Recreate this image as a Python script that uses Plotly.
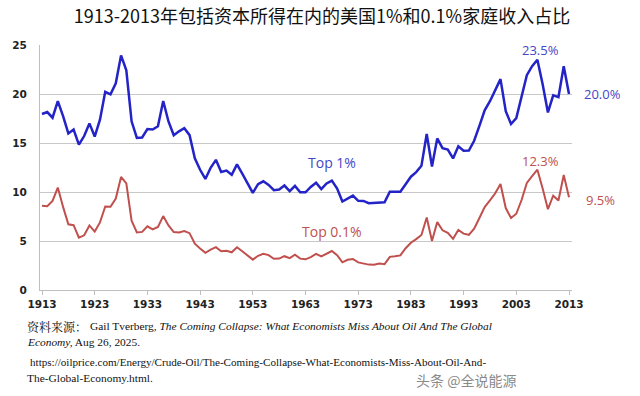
import plotly.graph_objects as go

years = list(range(1913, 2014))
top1 = [17.96, 18.16, 17.58, 19.27, 17.75, 15.98, 16.38, 14.83, 15.71, 17.00,
        15.66, 17.38, 20.22, 19.96, 21.09, 23.94, 22.42, 17.21, 15.51, 15.56,
        16.42, 16.37, 16.71, 19.29, 17.20, 15.80, 16.19, 16.51, 15.80, 13.43,
        12.27, 11.33, 12.47, 13.28, 12.04, 12.18, 11.75, 12.82, 11.88, 10.93,
        9.91, 10.80, 11.09, 10.72, 10.19, 10.25, 10.66, 10.09, 10.63, 9.98,
        9.97, 10.52, 10.94, 10.29, 10.87, 11.16, 10.36, 9.03, 9.37, 9.63,
        9.10, 9.09, 8.86, 8.89, 8.95, 8.95, 10.02, 10.02, 10.03, 10.80,
        11.56, 12.03, 12.67, 15.92, 12.60, 15.47, 14.47, 14.33, 13.43, 14.67,
        14.21, 14.23, 15.23, 16.74, 18.33, 19.26, 20.35, 21.52, 18.24, 16.94,
        17.54, 19.76, 21.92, 22.84, 23.50, 21.00, 18.12, 19.86, 19.68, 22.83,
        20.00]
top01 = [8.60, 8.55, 9.09, 10.45, 8.48, 6.70, 6.61, 5.35, 5.58, 6.59,
         5.96, 6.90, 8.52, 8.49, 9.33, 11.54, 10.88, 7.08, 5.88, 5.93,
         6.50, 6.18, 6.44, 7.54, 6.59, 5.91, 5.87, 6.02, 5.80, 4.73,
         4.24, 3.79, 4.12, 4.37, 3.96, 4.01, 3.85, 4.36, 3.96, 3.50,
         3.10, 3.49, 3.69, 3.56, 3.18, 3.21, 3.45, 3.25, 3.60, 3.20,
         3.13, 3.35, 3.68, 3.42, 3.70, 3.98, 3.55, 2.82, 3.08, 3.17,
         2.82, 2.73, 2.59, 2.58, 2.71, 2.64, 3.38, 3.44, 3.53, 4.26,
         4.82, 5.19, 5.61, 7.40, 5.00, 6.93, 6.09, 5.83, 5.22, 6.12,
         5.75, 5.63, 6.26, 7.35, 8.46, 9.14, 9.87, 10.82, 8.36, 7.34,
         7.78, 9.18, 10.93, 11.62, 12.28, 10.36, 8.25, 9.62, 9.13, 11.73,
         9.47]
x_ticks = list(range(1913, 2014, 10))
y_ticks = [0, 5, 10, 15, 20, 25]
series_names = ["Top 1%", "Top 0.1%"]

BLUE = "#2323c8"
RED = "#c0504d"
BLUE_TXT = "#4545c8"
RED_TXT = "#c0504d"

W, H = 640, 396
L, R, T, B = 40, 68, 45, 106
PW = W - L - R
PH = H - T - B
X0 = 1913 - 2 / 5.27
X1 = 1913 + 530 / 5.27

def px(xp):
    return (xp - L) / PW

def py(yp):
    return (H - B - yp) / PH

def xdata_to_paper(xv):
    return (xv - X0) / (X1 - X0)

fig = go.Figure()
fig.add_trace(go.Scatter(x=years, y=top1, mode="lines", name=series_names[0],
                         line=dict(color=BLUE, width=2.5)))
fig.add_trace(go.Scatter(x=years, y=top01, mode="lines", name=series_names[1],
                         line=dict(color=RED, width=2.0)))

lab_font = "Open Sans"
ann = []
# series labels
ann.append(dict(x=1968, y=13.0, xref="x", yref="y", text=series_names[0],
                xanchor="center", yanchor="middle",
                showarrow=False, font=dict(family=lab_font, size=14, color=BLUE_TXT)))
ann.append(dict(x=1968, y=6.0, xref="x", yref="y", text=series_names[1],
                xanchor="center", yanchor="middle",
                showarrow=False, font=dict(family=lab_font, size=14, color=RED_TXT)))
# peak and end labels
i1 = top1.index(max(top1[80:]))
i01 = top01.index(max(top01[80:]))
ann.append(dict(x=years[i1] + 0.5, y=top1[i1] + 0.95, xref="x", yref="y", text=f"{top1[i1]:.1f}%",
                xanchor="center", yanchor="middle",
                showarrow=False, font=dict(family=lab_font, size=13, color=BLUE_TXT)))
ann.append(dict(x=years[i01] + 0.5, y=top01[i01] + 0.9, xref="x", yref="y", text=f"{top01[i01]:.1f}%",
                xanchor="center", yanchor="middle",
                showarrow=False, font=dict(family=lab_font, size=13, color=RED_TXT)))
ann.append(dict(x=xdata_to_paper(years[-1] + 6.3), y=top1[-1], xref="paper", yref="y",
                text=f"{top1[-1]:.1f}%", showarrow=False, xanchor="center", yanchor="middle",
                font=dict(family=lab_font, size=13, color=BLUE_TXT)))
ann.append(dict(x=xdata_to_paper(years[-1] + 5.9), y=top01[-1] - 0.3, xref="paper", yref="y",
                text=f"{top01[-1]:.1f}%", showarrow=False, xanchor="center", yanchor="middle",
                font=dict(family=lab_font, size=13, color=RED_TXT)))

serif = "Liberation Serif, Times New Roman, DejaVu Serif, serif"
src_font = dict(family=serif, size=11.4, color="#111111")
ann.append(dict(x=px(25), y=py(326), xref="paper", yref="paper", xanchor="left", yanchor="middle",
                showarrow=False, align="left",
                text="资料来源：",
                font=dict(family="Noto Serif CJK SC, Noto Sans CJK SC", size=12, color="#111111")))
ann.append(dict(x=px(88), y=py(326), xref="paper", yref="paper", xanchor="left", yanchor="middle",
                showarrow=False, align="left",
                text="Gail Tverberg, <i>The Coming Collapse: What Economists Miss About Oil And The Global</i>",
                font=src_font))
ann.append(dict(x=px(25), y=py(342), xref="paper", yref="paper", xanchor="left", yanchor="middle",
                showarrow=False, align="left",
                text="<i>Economy,</i> Aug 26, 2025.", font=src_font))
ann.append(dict(x=px(28), y=py(362), xref="paper", yref="paper", xanchor="left", yanchor="middle",
                showarrow=False, align="left",
                text="https://oilprice.com/Energy/Crude-Oil/The-Coming-Collapse-What-Economists-Miss-About-Oil-And-",
                font=dict(family=serif, size=11.1, color="#111111")))
ann.append(dict(x=px(25), y=py(378), xref="paper", yref="paper", xanchor="left", yanchor="middle",
                showarrow=False, align="left",
                text="The-Global-Economy.html.", font=src_font))
ann.append(dict(x=px(414), y=py(380), xref="paper", yref="paper", xanchor="left", yanchor="middle",
                showarrow=False, align="left",
                text="头条 @全说能源",
                font=dict(family="Noto Sans CJK SC", size=14, color="#8a8a8a")))

fig.update_layout(
    width=W, height=H,
    margin=dict(l=L, r=R, t=T, b=B, pad=0, autoexpand=False),
    paper_bgcolor="white", plot_bgcolor="white",
    showlegend=False,
    title=dict(text="1913-2013年包括资本所得在内的美国1%和0.1%家庭收入占比",
               x=322 / W, xanchor="center", y=1 - 17 / H, yanchor="middle",
               xref="container", yref="container",
               font=dict(family="Noto Sans CJK SC", size=18, color="#111111")),
    annotations=ann,
)
fig.update_xaxes(range=[X0, X1], tickmode="array", tickvals=x_ticks,
                 ticktext=[str(v) for v in x_ticks], showgrid=False, zeroline=False,
                 showline=True, linecolor="#bfbfbf", linewidth=1,
                 ticks="outside", ticklen=4, tickcolor="#bfbfbf", automargin=False,
                 tickfont=dict(family="DejaVu Sans", size=10.5, color="#222222", weight="bold"))
fig.update_yaxes(range=[0, 25], tickmode="array", tickvals=y_ticks,
                 showgrid=True, gridcolor="#c8c8c8", gridwidth=1, zeroline=False,
                 showline=True, linecolor="#bfbfbf", linewidth=1, automargin=False,
                 ticks="", ticklabelstandoff=10,
                 tickfont=dict(family="DejaVu Sans", size=10.5, color="#222222", weight="bold"))

fig.write_html("out.html", config={"displayModeBar": False},
               post_script="document.body.style.margin='0';document.body.style.overflow='hidden';")
